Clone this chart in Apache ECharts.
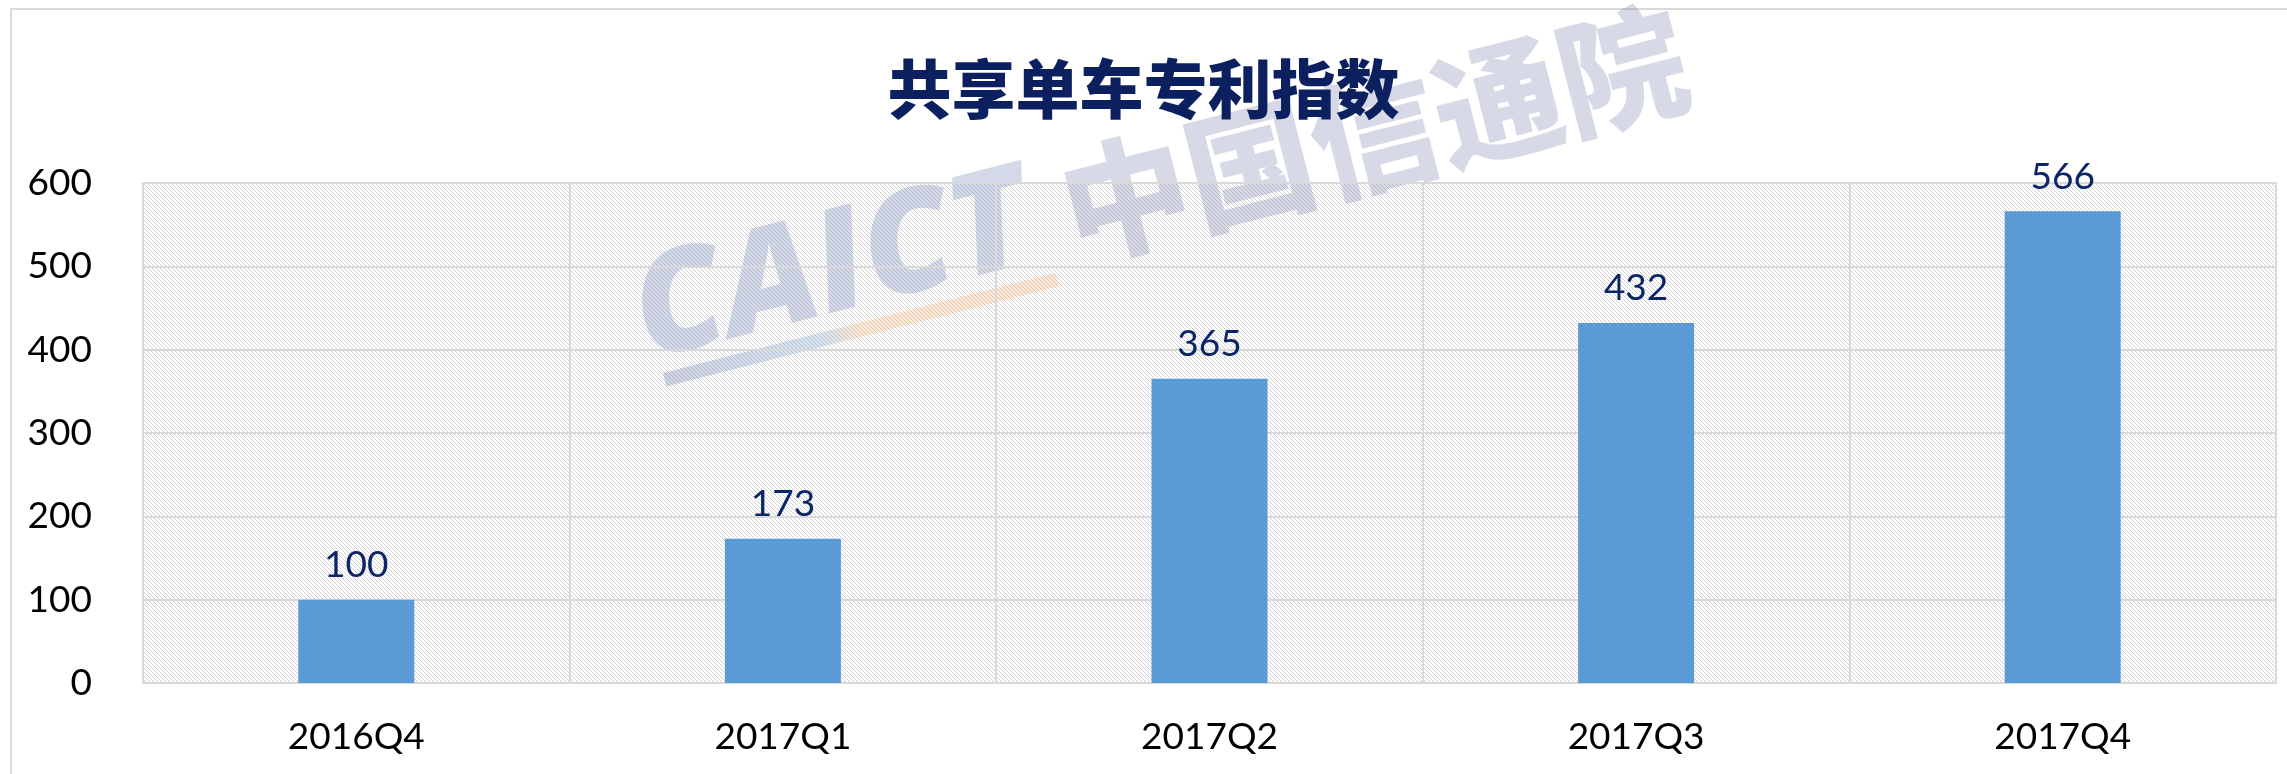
<!DOCTYPE html>
<html>
<head>
<meta charset="utf-8">
<script src="https://cdn.jsdelivr.net/npm/echarts@6/dist/echarts.min.js"></script>
<style>
html,body{margin:0;padding:0;background:#fff;}
#chart{width:2287px;height:774px;}
</style>
</head>
<body>
<div id="chart"></div>
<script>
const titleText = '共享单车专利指数';
const categories = ['2016Q4', '2017Q1', '2017Q2', '2017Q3', '2017Q4'];
const values = [100, 173, 365, 432, 566];
const yMin = 0;
const yMax = 600;
const yInterval = 100;
const watermarkLatin = 'CAICT';
const watermarkCJK = '中国信通院';

// hatch pattern for plot background
const pc = document.createElement('canvas');
pc.width = 8; pc.height = 8;
const pctx = pc.getContext('2d');
pctx.fillStyle = '#ffffff';
pctx.fillRect(0, 0, 8, 8);
pctx.fillStyle = '#d2d2d2';
for (let y = 0; y < 8; y++) {
  for (let x = 0; x < 8; x++) {
    if (((x - y) % 4 + 4) % 4 === 0) pctx.fillRect(x, y, 1, 1);
  }
}

const numFont = 'Lato, "Open Sans", "Noto Sans", sans-serif';
const chart = echarts.init(document.getElementById('chart'), null, {renderer: 'canvas'});
chart.setOption({
  animation: false,
  backgroundColor: '#ffffff',
  title: {
    text: titleText,
    left: 'center',
    top: 52,
    textStyle: {
      fontFamily: '"Noto Sans CJK SC", sans-serif',
      fontWeight: 900,
      fontSize: 64,
      color: '#0c1f5e'
    }
  },
  grid: {
    left: 143, right: 11, top: 183, bottom: 91,
    show: true,
    borderColor: '#d9d9d9',
    borderWidth: 2,
    backgroundColor: {image: pc, repeat: 'repeat'},
    outerBoundsMode: 'none'
  },
  xAxis: {
    type: 'category',
    data: categories,
    axisLine: {show: true, lineStyle: {color: '#d9d9d9', width: 2}},
    axisTick: {show: false},
    splitLine: {show: true, lineStyle: {color: '#d9d9d9', width: 2}},
    axisLabel: {fontFamily: numFont, fontSize: 37, color: '#000000', margin: 36}
  },
  yAxis: {
    type: 'value',
    min: yMin, max: yMax, interval: yInterval,
    axisLine: {show: false},
    axisTick: {show: false},
    splitLine: {show: true, lineStyle: {color: '#d9d9d9', width: 2}},
    axisLabel: {fontFamily: numFont, fontSize: 37, color: '#000000', margin: 51}
  },
  graphic: [
    {
      type: 'rect', z: -10, silent: true,
      shape: {x: 11, y: 9, width: 2400, height: 900},
      style: {fill: 'none', stroke: '#d9d9d9', lineWidth: 2}
    },
    {
      type: 'group', x: 655, y: 342, rotation: 0.25, z: 1, silent: true,
      children: [
        {
          type: 'text', x: -12, y: 46,
          style: {
            text: watermarkLatin,
            font: 'italic 900 142px "Open Sans", sans-serif',
            fill: 'rgba(120,140,185,0.33)',
            textVerticalAlign: 'bottom', textAlign: 'left'
          }
        },
        {
          type: 'text', x: 428, y: 40,
          style: {
            text: watermarkCJK,
            font: '900 128px "Noto Sans CJK SC", sans-serif',
            fill: 'rgba(110,120,165,0.28)',
            textVerticalAlign: 'bottom', textAlign: 'left'
          }
        },
        {
          type: 'rect',
          shape: {x: 0, y: 32, width: 405, height: 14},
          style: {
            fill: new echarts.graphic.LinearGradient(0, 0, 1, 0, [
              {offset: 0, color: 'rgba(120,130,175,0.35)'},
              {offset: 0.4, color: 'rgba(140,175,215,0.35)'},
              {offset: 0.5, color: 'rgba(245,190,130,0.35)'},
              {offset: 1, color: 'rgba(245,180,130,0.35)'}
            ])
          }
        }
      ]
    }
  ],
  series: [{
    type: 'bar',
    data: values,
    barWidth: 116,
    z: 3,
    itemStyle: {color: '#5b9bd5'},
    label: {
      show: true,
      position: 'top',
      distance: 16,
      fontFamily: numFont,
      fontSize: 37,
      color: '#0c2566'
    }
  }]
});
</script>
</body>
</html>
